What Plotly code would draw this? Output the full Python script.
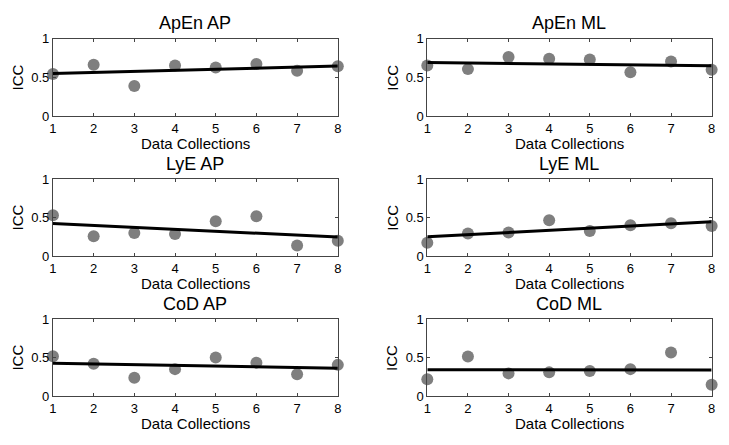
import numpy as np
import plotly.graph_objects as go

collections = [1, 2, 3, 4, 5, 6, 7, 8]
titles = ["ApEn AP", "ApEn ML", "LyE AP", "LyE ML", "CoD AP", "CoD ML"]
apen_ap = [0.546, 0.664, 0.39, 0.655, 0.63, 0.676, 0.588, 0.647]
apen_ml = [0.655, 0.609, 0.765, 0.744, 0.735, 0.567, 0.706, 0.601]
lye_ap = [0.53, 0.26, 0.30, 0.29, 0.454, 0.517, 0.139, 0.20]
lye_ml = [0.176, 0.294, 0.307, 0.466, 0.328, 0.403, 0.429, 0.391]
cod_ap = [0.521, 0.424, 0.24, 0.353, 0.504, 0.437, 0.286, 0.408]
cod_ml = [0.223, 0.517, 0.298, 0.311, 0.328, 0.353, 0.567, 0.151]
series = [apen_ap, apen_ml, lye_ap, lye_ml, cod_ap, cod_ml]
y_ticks = [0, 0.5, 1]
y_tick_text = ["0", "0.5", "1"]

W, H = 729, 445
col_px = [(49.5, 337.5), (428, 715.5)]
row_px = [(33, 113), (178, 258), (323, 403)]
FONT = "Liberation Sans, Arial, sans-serif"

fig = go.Figure()
annotations = []
for i, (title, vals) in enumerate(zip(titles, series)):
    r, c = divmod(i, 2)
    n = i + 1
    xa = "x" if n == 1 else f"x{n}"
    ya = "y" if n == 1 else f"y{n}"
    x0, x1 = col_px[c]
    y0, y1 = row_px[r]
    xdom = [x0 / W, x1 / W]
    ydom = [1 - y1 / H, 1 - y0 / H]
    fig.add_trace(go.Scatter(x=collections, y=vals, mode="markers",
                             marker=dict(size=12, color="#7f7f7f"),
                             cliponaxis=False, showlegend=False, hoverinfo="skip",
                             xaxis=xa, yaxis=ya))
    slope, icpt = np.polyfit(collections, vals, 1)
    xs = np.array([collections[0], collections[-1]])
    fig.add_trace(go.Scatter(x=xs, y=slope * xs + icpt, mode="lines",
                             line=dict(color="black", width=3),
                             cliponaxis=False, showlegend=False, hoverinfo="skip",
                             xaxis=xa, yaxis=ya))
    axcommon = dict(showline=True, linecolor="#444444", linewidth=1, mirror="allticks",
                    ticks="inside", ticklen=3, tickcolor="#444444", showgrid=False,
                    zeroline=False, tickfont=dict(family=FONT, size=13, color="black"))
    fig.layout[("xaxis" if n == 1 else f"xaxis{n}")] = dict(
        domain=xdom, range=[1, 8], anchor=ya, tickvals=collections,
        ticktext=[str(v) for v in collections], **axcommon)
    fig.layout[("yaxis" if n == 1 else f"yaxis{n}")] = dict(
        domain=ydom, range=[0, 1], anchor=xa, tickvals=y_ticks,
        ticktext=y_tick_text, **axcommon)
    xc = (x0 + x1) / 2 / W
    annotations.append(dict(text=title, x=xc, y=1 - (y0 - 16) / H, xref="paper", yref="paper",
                            showarrow=False, font=dict(family=FONT, size=18, color="black"),
                            xanchor="center", yanchor="middle"))
    annotations.append(dict(text="Data Collections", x=xc, y=1 - (y1 + 28) / H, xref="paper",
                            yref="paper", showarrow=False,
                            font=dict(family=FONT, size=15, color="black"),
                            xanchor="center", yanchor="middle"))
    annotations.append(dict(text="ICC", x=(x0 - 35.5) / W, y=1 - (y0 + y1) / 2 / H, xref="paper",
                            yref="paper", showarrow=False, textangle=-90,
                            font=dict(family=FONT, size=15, color="black"),
                            xanchor="center", yanchor="middle"))

fig.update_layout(width=W, height=H, margin=dict(l=0, r=0, t=0, b=0, pad=0),
                  paper_bgcolor="white", plot_bgcolor="white", annotations=annotations)
fig.write_html("out.html", config={"displayModeBar": False},
               post_script="document.body.style.margin='0';document.body.style.overflow='hidden';")
